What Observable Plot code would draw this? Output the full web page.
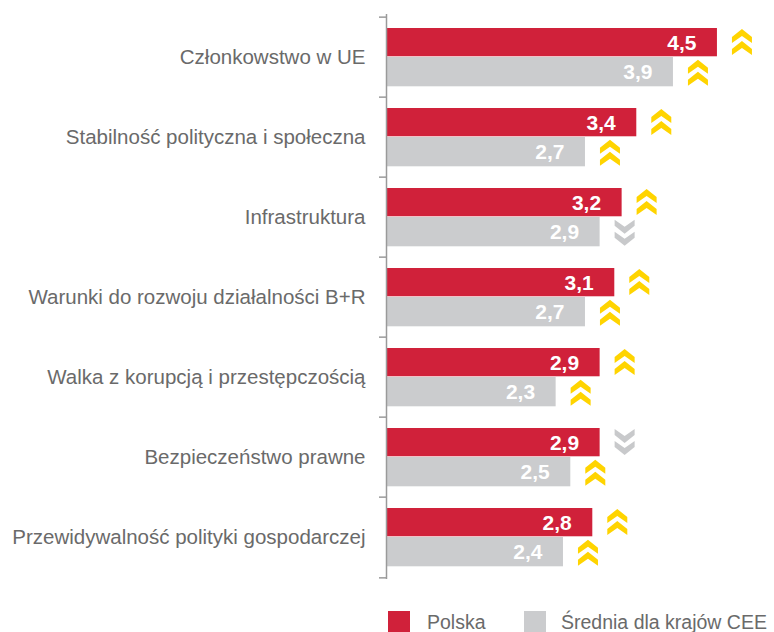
<!DOCTYPE html>
<html><head><meta charset="utf-8">
<script src="https://cdn.jsdelivr.net/npm/d3@7"></script>
<script src="https://cdn.jsdelivr.net/npm/@observablehq/plot@0.6"></script>
<style>
body{margin:0;background:#fff;font-family:"Liberation Sans",Arial,sans-serif;}
#chart svg{display:block;}
#legend{position:relative;width:774px;height:32px;overflow:hidden;}
#legend .sw{position:absolute;top:11px;width:22px;height:21px;}
#legend .lb{position:absolute;top:13px;font-size:19.5px;line-height:19px;color:#6a6a6a;white-space:nowrap;}
</style></head><body>
<div id="chart"></div>
<div id="legend"></div>
<script>
const categories = [
  "Członkowstwo w UE",
  "Stabilność polityczna i społeczna",
  "Infrastruktura",
  "Warunki do rozwoju działalności B+R",
  "Walka z korupcją i przestępczością",
  "Bezpieczeństwo prawne",
  "Przewidywalność polityki gospodarczej"
];
const polska = [4.5, 3.4, 3.2, 3.1, 2.9, 2.9, 2.8];
const cee    = [3.9, 2.7, 2.9, 2.7, 2.3, 2.5, 2.4];
const polskaTrend = ["up","up","up","up","up","down","up"];
const ceeTrend    = ["up","up","down","up","up","up","up"];
const seriesNames = ["Polska", "Średnia dla krajów CEE"];
const seriesColors = ["#D0213A", "#CBCCCE"];
const trendColors = {up: "#FFD400", down: "#C8C9CB"};

const fmt = v => v.toFixed(1).replace(".", ",");
const polskaRows = categories.map((c, i) => ({category: c, value: polska[i], trend: polskaTrend[i]}));
const ceeRows = categories.map((c, i) => ({category: c, value: cee[i], trend: ceeTrend[i]}));

function chevron(dir) {
  return {
    draw(ctx) {
      for (const t of [-13, -1]) {
        const pts = [[-10, t + 8], [0, t], [10, t + 8], [10, t + 14], [0, t + 7], [-10, t + 14]];
        pts.forEach(([x, y], k) => {
          const yy = dir === "up" ? y : -y;
          if (k === 0) ctx.moveTo(x, yy); else ctx.lineTo(x, yy);
        });
        ctx.closePath();
      }
    }
  };
}

const W = 774, H = 600, mL = 387, mT = 14, mB = 21;
const pxPerUnit = 73.32;
const band = (H - mT - mB) / categories.length;
const half = band / 2;
const tickLen = 7 / pxPerUnit;

function trendMarks(rows, dy) {
  return ["up", "down"].map(dir => Plot.dot(rows.filter(d => d.trend === dir), {
    x: "value", y: "category", dx: 24.5, dy,
    symbol: chevron(dir), fill: trendColors[dir], stroke: "none", r: 10
  }));
}

const chart = Plot.plot({
  width: W, height: H,
  marginLeft: mL, marginRight: 0, marginTop: mT, marginBottom: mB,
  style: {fontFamily: "Liberation Sans, Arial, sans-serif", color: "#6a6a6a", background: "#fff"},
  x: {domain: [0, (W - mL) / pxPerUnit], axis: null},
  y: {domain: categories, padding: 0, axis: null},
  marks: [
    Plot.barX(polskaRows, {x: "value", y: "category", fill: seriesColors[0], insetTop: 11, insetBottom: band - 40}),
    Plot.barX(ceeRows, {x: "value", y: "category", fill: seriesColors[1], insetTop: 40, insetBottom: 10.7}),
    Plot.text(polskaRows, {x: "value", y: "category", text: d => fmt(d.value), textAnchor: "end", dx: -21, dy: -14.6, fill: "#fff", fontWeight: "bold", fontSize: 21}),
    Plot.text(ceeRows, {x: "value", y: "category", text: d => fmt(d.value), textAnchor: "end", dx: -21, dy: 14.8, fill: "#fff", fontWeight: "bold", fontSize: 21}),
    ...trendMarks(polskaRows, -15.5),
    ...trendMarks(ceeRows, 15.2),
    Plot.ruleX([0], {stroke: "#9a9a9a", strokeWidth: 1.5, dx: -1}),
    Plot.ruleY(categories, {y: d => d, x1: -tickLen, x2: 0, dx: -1, dy: -half, stroke: "#9a9a9a", strokeWidth: 1.5}),
    Plot.ruleY(categories.slice(-1), {y: d => d, x1: -tickLen, x2: 0, dx: -1, dy: half, stroke: "#9a9a9a", strokeWidth: 1.5}),
    Plot.axisY({tickSize: 0, tickPadding: 22, fontSize: 20.5, label: null, fill: "#6a6a6a"})
  ]
});
document.getElementById("chart").appendChild(chart);

const legend = document.getElementById("legend");
const legendPos = [[388, 427], [524, 561]];
seriesNames.forEach((name, i) => {
  const sw = document.createElement("div");
  sw.className = "sw"; sw.style.left = legendPos[i][0] + "px"; sw.style.background = seriesColors[i];
  const lb = document.createElement("div");
  lb.className = "lb"; lb.style.left = legendPos[i][1] + "px"; lb.textContent = name;
  legend.appendChild(sw); legend.appendChild(lb);
});
</script>
</body></html>
